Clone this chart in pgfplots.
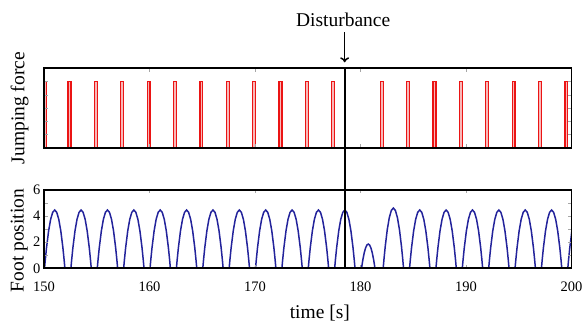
\documentclass[border=0pt]{standalone}
\usepackage{pgfplots}
\pgfplotsset{compat=1.18}
\usetikzlibrary{calc,arrows.meta}
\usepackage{fontspec}
\setmainfont{Liberation Serif}
\definecolor{footblue}{RGB}{35,35,155}
\definecolor{forcered}{RGB}{235,20,20}
\begin{document}
\begin{tikzpicture}
\path[use as bounding box] (0,0) rectangle (583bp,-327bp);
\pgfplotsset{
  panel/.style={
    scale only axis, width=527.5bp,
    xmin=150, xmax=200, ymin=0, ymax=6,
    axis on top,
    axis line style={line width=1.9bp},
    tick style={color=black!35, line width=0.5bp},
    major tick length=3.5bp,
    xtick={150,160,...,200},
    /pgf/number format/assume math mode=true,
    tick label style={font=\fontsize{14.5bp}{17bp}\selectfont},
    label style={font=\fontsize{19.5bp}{23bp}\selectfont},
  }
}
\begin{axis}[panel, name=top, at={(44bp,-68.3bp)}, anchor=north west,
  height=79.4bp,
  xticklabels={}, ytick={1,...,5}, yticklabels={},
  ylabel={Jumping force},
  ylabel style={at={(axis description cs:-0.046,0.5)}, anchor=center},
]
\addplot[draw=forcered, fill=forcered!30, line width=1.2bp] table[row sep=\\] {
x y\\
149.95 0\\149.95 5\\150.2 5\\150.2 0\\
152.28 0\\152.28 5\\152.55 5\\152.55 0\\
154.78 0\\154.78 5\\155.05 5\\155.05 0\\
157.28 0\\157.28 5\\157.55 5\\157.55 0\\
159.78 0\\159.78 5\\160.05 5\\160.05 0\\
162.28 0\\162.28 5\\162.55 5\\162.55 0\\
164.78 0\\164.78 5\\165.05 5\\165.05 0\\
167.28 0\\167.28 5\\167.55 5\\167.55 0\\
169.78 0\\169.78 5\\170.05 5\\170.05 0\\
172.28 0\\172.28 5\\172.55 5\\172.55 0\\
174.78 0\\174.78 5\\175.05 5\\175.05 0\\
177.28 0\\177.28 5\\177.55 5\\177.55 0\\
181.88 0\\181.88 5\\182.15 5\\182.15 0\\
184.38 0\\184.38 5\\184.65 5\\184.65 0\\
186.88 0\\186.88 5\\187.15 5\\187.15 0\\
189.38 0\\189.38 5\\189.65 5\\189.65 0\\
191.88 0\\191.88 5\\192.15 5\\192.15 0\\
194.38 0\\194.38 5\\194.65 5\\194.65 0\\
196.88 0\\196.88 5\\197.15 5\\197.15 0\\
199.38 0\\199.38 5\\199.65 5\\199.65 0\\
};
\coordinate (d1) at (axis cs:178.5,6);
\end{axis}
\begin{axis}[panel, name=bot, at={(44bp,-189.7bp)}, anchor=north west,
  height=78.6bp,
  ytick={0,...,6}, yticklabels={0,,2,,4,,6},
  xticklabel style={anchor=center, yshift=-18.7bp},
  ylabel={Foot position},
  ylabel style={at={(axis description cs:-0.047,0.354)}, anchor=center},
  xlabel={time [s]},
  xlabel style={at={(axis description cs:0.523,0)}, anchor=center, yshift=-44.7bp},
]
\addplot[footblue, line width=1.5bp] table[row sep=\\] {
x y\\
150 0\\
150.05 0\\150.127 0.684\\150.243 1.602\\150.436 2.848\\150.629 3.738\\150.822 4.272\\151.015 4.45\\151.208 4.272\\151.401 3.738\\151.594 2.848\\151.787 1.602\\151.903 0.684\\151.98 0\\
152.55 0\\152.627 0.684\\152.743 1.602\\152.936 2.848\\153.129 3.738\\153.322 4.272\\153.515 4.45\\153.708 4.272\\153.901 3.738\\154.094 2.848\\154.287 1.602\\154.403 0.684\\154.48 0\\
155.05 0\\155.127 0.684\\155.243 1.602\\155.436 2.848\\155.629 3.738\\155.822 4.272\\156.015 4.45\\156.208 4.272\\156.401 3.738\\156.594 2.848\\156.787 1.602\\156.903 0.684\\156.98 0\\
157.55 0\\157.627 0.684\\157.743 1.602\\157.936 2.848\\158.129 3.738\\158.322 4.272\\158.515 4.45\\158.708 4.272\\158.901 3.738\\159.094 2.848\\159.287 1.602\\159.403 0.684\\159.48 0\\
160.05 0\\160.127 0.684\\160.243 1.602\\160.436 2.848\\160.629 3.738\\160.822 4.272\\161.015 4.45\\161.208 4.272\\161.401 3.738\\161.594 2.848\\161.787 1.602\\161.903 0.684\\161.98 0\\
162.55 0\\162.627 0.684\\162.743 1.602\\162.936 2.848\\163.129 3.738\\163.322 4.272\\163.515 4.45\\163.708 4.272\\163.901 3.738\\164.094 2.848\\164.287 1.602\\164.403 0.684\\164.48 0\\
165.05 0\\165.127 0.684\\165.243 1.602\\165.436 2.848\\165.629 3.738\\165.822 4.272\\166.015 4.45\\166.208 4.272\\166.401 3.738\\166.594 2.848\\166.787 1.602\\166.903 0.684\\166.98 0\\
167.55 0\\167.627 0.684\\167.743 1.602\\167.936 2.848\\168.129 3.738\\168.322 4.272\\168.515 4.45\\168.708 4.272\\168.901 3.738\\169.094 2.848\\169.287 1.602\\169.403 0.684\\169.48 0\\
170.05 0\\170.127 0.684\\170.243 1.602\\170.436 2.848\\170.629 3.738\\170.822 4.272\\171.015 4.45\\171.208 4.272\\171.401 3.738\\171.594 2.848\\171.787 1.602\\171.903 0.684\\171.98 0\\
172.55 0\\172.627 0.684\\172.743 1.602\\172.936 2.848\\173.129 3.738\\173.322 4.272\\173.515 4.45\\173.708 4.272\\173.901 3.738\\174.094 2.848\\174.287 1.602\\174.403 0.684\\174.48 0\\
175.05 0\\175.127 0.684\\175.243 1.602\\175.436 2.848\\175.629 3.738\\175.822 4.272\\176.015 4.45\\176.208 4.272\\176.401 3.738\\176.594 2.848\\176.787 1.602\\176.903 0.684\\176.98 0\\
177.55 0\\177.627 0.684\\177.743 1.602\\177.936 2.848\\178.129 3.738\\178.322 4.272\\178.515 4.45\\178.708 4.272\\178.901 3.738\\179.094 2.848\\179.287 1.602\\179.403 0.684\\179.48 0\\
180.1 0\\180.151 0.284\\180.227 0.666\\180.354 1.184\\180.481 1.554\\180.608 1.776\\180.735 1.85\\180.862 1.776\\180.989 1.554\\181.116 1.184\\181.243 0.666\\181.319 0.284\\181.37 0\\
182.15 0\\182.227 0.707\\182.343 1.656\\182.536 2.944\\182.729 3.864\\182.922 4.416\\183.115 4.6\\183.308 4.416\\183.501 3.864\\183.694 2.944\\183.887 1.656\\184.003 0.707\\184.08 0\\
184.65 0\\184.727 0.684\\184.843 1.602\\185.036 2.848\\185.229 3.738\\185.422 4.272\\185.615 4.45\\185.808 4.272\\186.001 3.738\\186.194 2.848\\186.387 1.602\\186.503 0.684\\186.58 0\\
187.15 0\\187.227 0.684\\187.343 1.602\\187.536 2.848\\187.729 3.738\\187.922 4.272\\188.115 4.45\\188.308 4.272\\188.501 3.738\\188.694 2.848\\188.887 1.602\\189.003 0.684\\189.08 0\\
189.65 0\\189.727 0.684\\189.843 1.602\\190.036 2.848\\190.229 3.738\\190.422 4.272\\190.615 4.45\\190.808 4.272\\191.001 3.738\\191.194 2.848\\191.387 1.602\\191.503 0.684\\191.58 0\\
192.15 0\\192.227 0.684\\192.343 1.602\\192.536 2.848\\192.729 3.738\\192.922 4.272\\193.115 4.45\\193.308 4.272\\193.501 3.738\\193.694 2.848\\193.887 1.602\\194.003 0.684\\194.08 0\\
194.65 0\\194.727 0.684\\194.843 1.602\\195.036 2.848\\195.229 3.738\\195.422 4.272\\195.615 4.45\\195.808 4.272\\196.001 3.738\\196.194 2.848\\196.387 1.602\\196.503 0.684\\196.58 0\\
197.15 0\\197.227 0.684\\197.343 1.602\\197.536 2.848\\197.729 3.738\\197.922 4.272\\198.115 4.45\\198.308 4.272\\198.501 3.738\\198.694 2.848\\198.887 1.602\\199.003 0.684\\199.08 0\\
199.65 0\\199.727 0.684\\199.843 1.602\\200.036 2.848\\
};
\coordinate (d2) at (axis cs:178.5,0);
\end{axis}
\draw[line width=2bp] (d1) -- (d2);
\draw[line width=1.5bp, -{To[length=5bp,width=9bp]}] ($(d1)+(0,36bp)$) -- ($(d1)+(0,6bp)$);
\node[font=\fontsize{19.5bp}{23bp}\selectfont, anchor=base] at ($(d1)+(-1.5bp,41.5bp)$) {Disturbance};
\end{tikzpicture}
\end{document}
